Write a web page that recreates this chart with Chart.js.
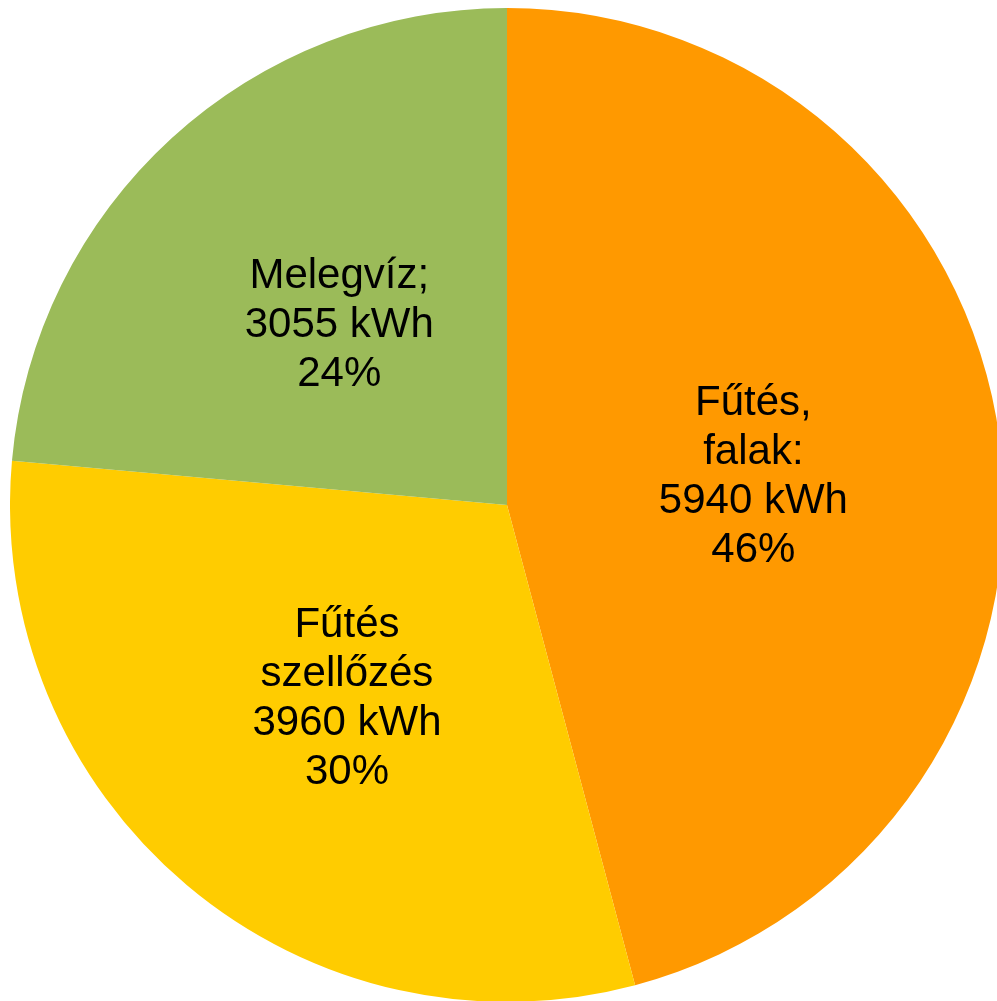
<!DOCTYPE html>
<html lang="hu">
<head>
<meta charset="utf-8">
<title>Energiafelhasználás</title>
<script src="https://cdn.jsdelivr.net/npm/chart.js@4/dist/chart.umd.min.js"></script>
<style>
    html, body {
        margin: 0;
        padding: 0;
        background: #ffffff;
        overflow: hidden;
        width: 997px;
        height: 1001px;
    }
    #wrap {
        position: absolute;
        left: 10px;
        top: 8px;
        width: 994px;
        height: 994px;
    }
</style>
</head>
<body>
<div id="wrap">
    <canvas id="pieChart" width="994" height="994"></canvas>
</div>
<script>
// Slice data (clockwise from 12 o'clock)
const categories = [['Fűtés,', 'falak:'], ['Fűtés', 'szellőzés'], ['Melegvíz;']];
const valuesKwh = [5940, 3960, 3055];
const percentLabels = ['46%', '30%', '24%'];
const sliceColors = ['#FF9900', '#FFCC00', '#9BBB59'];

// Draws the multi-line labels inside each slice
const sliceLabels = {
    id: 'sliceLabels',
    afterDatasetsDraw(chart) {
        const ctx = chart.ctx;
        const meta = chart.getDatasetMeta(0);
        ctx.save();
        ctx.font = '42px "Liberation Sans", Arial, sans-serif';
        ctx.fillStyle = '#000000';
        ctx.textAlign = 'center';
        ctx.textBaseline = 'middle';
        const lineHeight = 49;
        meta.data.forEach((arc, i) => {
            const pos = arc.tooltipPosition();
            const lines = [...categories[i], `${valuesKwh[i]} kWh`, percentLabels[i]];
            const startY = pos.y + 4 - (lines.length - 1) * lineHeight / 2;
            lines.forEach((line, j) => {
                ctx.fillText(line, pos.x, startY + j * lineHeight);
            });
        });
        ctx.restore();
    }
};

const ctx = document.getElementById('pieChart').getContext('2d');
new Chart(ctx, {
    type: 'pie',
    data: {
        labels: categories.map(c => c.join(' ')),
        datasets: [{
            data: valuesKwh,
            backgroundColor: sliceColors,
            borderWidth: 0,
            hoverOffset: 0
        }]
    },
    options: {
        responsive: false,
        animation: false,
        layout: { padding: 0 },
        plugins: {
            legend: { display: false },
            tooltip: { enabled: false }
        }
    },
    plugins: [sliceLabels]
});
</script>
</body>
</html>
